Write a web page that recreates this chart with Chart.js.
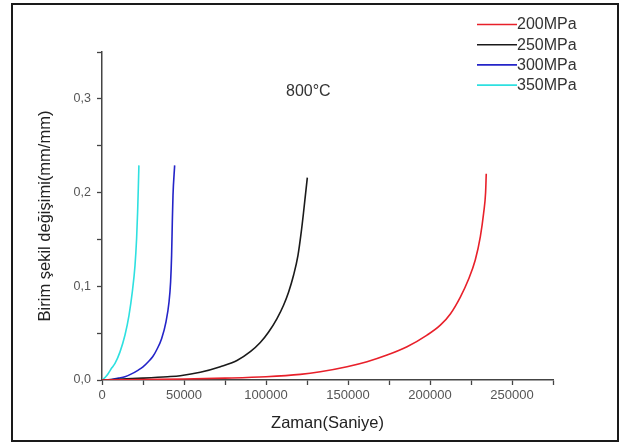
<!DOCTYPE html>
<html>
<head>
<meta charset="utf-8">
<script src="https://cdn.jsdelivr.net/npm/chart.js@4.4.1/dist/chart.umd.min.js"></script>
<style>
  html, body { margin: 0; padding: 0; background: #fff; }
  #wrap { width: 621px; height: 443px; position: relative; }
</style>
</head>
<body>
<div id="wrap"><canvas id="c" width="621" height="443"></canvas></div>
<script>
// ---- data ----
const seriesLabels = ['200MPa', '250MPa', '300MPa', '350MPa'];
const seriesColors = ['#e8202a', '#1a1a1a', '#2424c8', '#2ee0e0'];

const x200 = [0, 25000, 50000, 75000, 100000, 120900, 133100, 149400, 161600, 173800, 186000, 198200, 206300, 212400, 218500, 223500, 227600, 230700, 232700, 233900, 234300];
const y200 = [0, 0.0005, 0.001, 0.002, 0.0035, 0.006, 0.0088, 0.0142, 0.0195, 0.0266, 0.0355, 0.0479, 0.0585, 0.0705, 0.0885, 0.1075, 0.128, 0.153, 0.178, 0.2, 0.22];

const x250 = [0, 10000, 25000, 40000, 47740, 59940, 72130, 82300, 90430, 96520, 101600, 106700, 110700, 113800, 116800, 119500, 121500, 122900, 124200, 125200];
const y250 = [0, 0.0008, 0.002, 0.0035, 0.0046, 0.0082, 0.0142, 0.0208, 0.0302, 0.040, 0.0512, 0.0656, 0.0798, 0.094, 0.1117, 0.133, 0.158, 0.179, 0.2, 0.216];

const x300 = [0, 5850, 10000, 14020, 18000, 22130, 25000, 28230, 31000, 33290, 36340, 39020, 40850, 41830, 42440, 42870, 43290, 44300];
const y300 = [0, 0.0005, 0.002, 0.0035, 0.0065, 0.0106, 0.014, 0.0195, 0.025, 0.032, 0.044, 0.062, 0.083, 0.1046, 0.133, 0.168, 0.197, 0.229];

const x350 = [0, 2000, 3840, 6000, 7930, 10980, 14020, 16460, 18480, 20120, 21100, 21710, 22130, 22500];
const y350 = [0, 0.003, 0.007, 0.013, 0.0177, 0.030, 0.048, 0.069, 0.094, 0.122, 0.151, 0.179, 0.204, 0.229];

const xMajorTicks = [0, 50000, 100000, 150000, 200000, 250000];
const yMajorTicks = [0, 0.1, 0.2, 0.3];
const annotationText = '800°C';
const annotationPos = [125800, 0.3078];
const xTitle = 'Zaman(Saniye)';
const yTitle = 'Birim şekil değişimi(mm/mm)';

// ---- build ----
function pts(xs, ys) { return xs.map((x, i) => ({ x: x, y: ys[i] })); }
const seriesX = [x200, x250, x300, x350];
const seriesY = [y200, y250, y300, y350];

const datasets = seriesLabels.map((lab, i) => ({
  label: lab,
  data: pts(seriesX[i], seriesY[i]),
  borderColor: seriesColors[i],
  backgroundColor: seriesColors[i],
  borderWidth: 1.6,
  pointRadius: 0,
  showLine: true,
  fill: false,
  cubicInterpolationMode: 'monotone'
}));

const FONT = '"Liberation Sans", Arial, sans-serif';

const framePlugin = {
  id: 'frame',
  afterDraw(chart) {
    const ctx = chart.ctx;
    ctx.save();
    ctx.strokeStyle = '#1a1a1a';
    ctx.lineWidth = 2;
    ctx.strokeRect(12, 4, 606, 437);
    ctx.restore();
  }
};

const legendPlugin = {
  id: 'customLegend',
  afterDraw(chart) {
    const ctx = chart.ctx;
    ctx.save();
    ctx.font = '16px ' + FONT;
    ctx.textBaseline = 'middle';
    ctx.textAlign = 'left';
    chart.data.datasets.forEach((ds, i) => {
      const y = 24.5 + i * 20.2;
      ctx.strokeStyle = ds.borderColor;
      ctx.lineWidth = 1.6;
      ctx.beginPath();
      ctx.moveTo(477, y);
      ctx.lineTo(517, y);
      ctx.stroke();
      ctx.fillStyle = '#333';
      ctx.fillText(ds.label, 517, y + 0.5);
    });
    ctx.restore();
  }
};

const annotationPlugin = {
  id: 'annot',
  afterDraw(chart) {
    const ctx = chart.ctx;
    const xs = chart.scales.x, ys = chart.scales.y;
    ctx.save();
    ctx.font = '16px ' + FONT;
    ctx.fillStyle = '#333';
    ctx.textAlign = 'center';
    ctx.textBaseline = 'middle';
    ctx.fillText(annotationText, xs.getPixelForValue(annotationPos[0]), ys.getPixelForValue(annotationPos[1]));
    ctx.restore();
  }
};

new Chart(document.getElementById('c'), {
  type: 'scatter',
  data: { datasets: datasets },
  options: {
    responsive: false,
    animation: false,
    layout: { padding: { left: 0, top: 52, right: 68, bottom: 0 } },
    plugins: { legend: { display: false }, tooltip: { enabled: false } },
    scales: {
      x: {
        type: 'linear',
        min: 0, max: 275000,
        afterFit(s) { s.height = 63; },
        border: { color: '#444', width: 1.5 },
        grid: { drawOnChartArea: false, drawTicks: true, tickLength: 5, tickColor: '#444', tickWidth: 1.3 },
        ticks: {
          stepSize: 25000, autoSkip: false, maxRotation: 0, padding: 3,
          color: '#555', font: { family: FONT, size: 13 },
          callback: (v) => xMajorTicks.includes(v) ? String(v) : ''
        },
        title: { display: true, text: xTitle, color: '#222', font: { family: FONT, size: 16.5 }, padding: { top: 0, bottom: 10 } }
      },
      y: {
        type: 'linear',
        min: 0, max: 0.35,
        afterFit(s) { s.width = 102; },
        border: { color: '#444', width: 1.5 },
        grid: { drawOnChartArea: false, drawTicks: true, tickLength: 5, tickColor: '#444', tickWidth: 1.3 },
        ticks: {
          stepSize: 0.05, autoSkip: false, padding: 6,
          color: '#555', font: { family: FONT, size: 12.5 },
          callback: (v) => {
            const r = Math.round(v * 100) / 100;
            return yMajorTicks.some(t => Math.abs(t - r) < 1e-9) ? r.toFixed(1).replace('.', ',') : '';
          }
        },
        title: { display: true, text: yTitle, color: '#222', font: { family: FONT, size: 16.5 }, padding: { top: 36, bottom: 0 } }
      }
    }
  },
  plugins: [framePlugin, legendPlugin, annotationPlugin]
});
</script>
</body>
</html>
